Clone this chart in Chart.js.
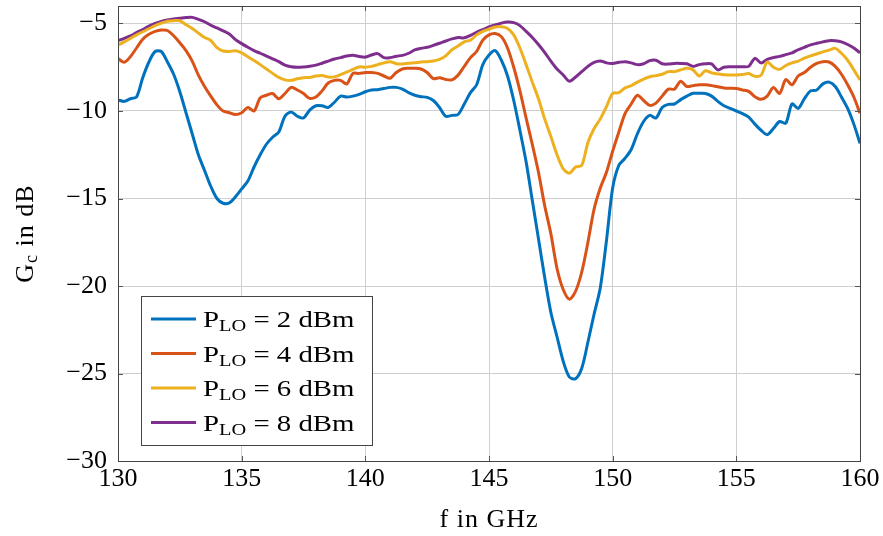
<!DOCTYPE html>
<html>
<head>
<meta charset="utf-8">
<script src="https://cdn.jsdelivr.net/npm/chart.js@4/dist/chart.umd.min.js"></script>
<style>
  html, body { margin: 0; padding: 0; background: #fff; }
  #wrap { width: 883px; height: 536px; position: relative; }
</style>
</head>
<body>
<div id="wrap"><canvas id="gain"></canvas></div>
<script>
// frequency grid in GHz (0.25 GHz steps)
const freqs = [];
for (let i = 0; i <= 120; i++) freqs.push(130 + i * 0.25);

const plo2 = [
  -9.37, -9.45, -9.3, -9.2, -8.1, -7.2, -6.6, -6.6, -7.2, -7.9, -8.9, -10.1, -11.3, -12.5, -13.4, -14.3,
  -15.0, -15.27, -15.25, -14.9, -14.45, -14.0, -13.2, -12.5, -11.9, -11.5, -11.2, -10.3, -10.05, -10.3, -10.4, -9.95,
  -9.7, -9.7, -9.8, -9.5, -9.15, -9.2, -9.15, -9.05, -8.9, -8.8, -8.78, -8.72, -8.65, -8.65, -8.75, -8.95,
  -9.1, -9.18, -9.22, -9.4, -9.8, -10.3, -10.25, -10.2, -9.6, -8.95, -8.5, -7.35, -6.8, -6.55, -7.1, -8.0,
  -9.4, -11.1, -12.9, -15.1, -17.3, -19.5, -21.5, -22.9, -24.3, -25.2, -25.3, -24.7, -23.2, -21.6, -20.1, -17.4,
  -14.4, -13.1, -12.7, -12.2, -11.3, -10.6, -10.25, -10.4, -9.8, -9.62, -9.6, -9.35, -9.15, -8.99, -8.99, -9.0,
  -9.15, -9.45, -9.7, -9.85, -10.0, -10.15, -10.35, -10.75, -11.1, -11.35, -11.0, -10.6, -10.7, -9.6, -9.85, -9.3,
  -8.85, -8.8, -8.45, -8.35, -8.6, -9.2, -9.85, -10.75, -11.85
];
const plo4 = [
  -7.0, -7.22, -6.9, -6.4, -5.9, -5.62, -5.45, -5.37, -5.4, -5.7, -6.1, -6.55, -7.15, -7.95, -8.6, -9.15,
  -9.65, -10.0, -10.1, -10.2, -10.1, -9.8, -10.0, -9.25, -9.1, -9.0, -9.3, -9.0, -8.65, -8.8, -9.0, -9.28,
  -9.2, -8.85, -8.4, -8.25, -8.25, -8.45, -7.85, -7.85, -7.8, -7.8, -7.85, -8.0, -8.13, -7.8, -7.6, -7.56,
  -7.56, -7.6, -7.8, -8.15, -8.1, -8.2, -8.22, -7.95, -7.45, -6.95, -6.6, -5.95, -5.65, -5.57, -5.75, -6.4,
  -7.5, -8.85, -10.4, -11.9, -13.5, -15.4, -17.0, -19.0, -20.2, -20.75, -20.3, -19.2, -17.5, -15.6, -14.4, -13.5,
  -12.3, -11.2, -10.15, -9.6, -9.1, -9.4, -9.68, -9.55, -9.15, -8.75, -8.75, -8.3, -8.6, -8.55, -8.5, -8.5,
  -8.55, -8.62, -8.68, -8.7, -8.72, -8.8, -8.88, -9.18, -9.33, -9.15, -8.65, -9.0, -8.2, -8.5, -8.0, -7.8,
  -7.5, -7.28, -7.18, -7.2, -7.45, -7.9, -8.5, -9.2, -10.13
];
const plo6 = [
  -6.23, -6.05, -5.85, -5.65, -5.47, -5.3, -5.12, -4.98, -4.87, -4.84, -4.84, -5.07, -5.28, -5.55, -5.8, -5.97,
  -6.38, -6.57, -6.6, -6.56, -6.68, -6.9, -7.12, -7.35, -7.6, -7.85, -8.08, -8.22, -8.25, -8.16, -8.1, -8.08,
  -8.0, -7.97, -8.06, -8.05, -7.92, -7.78, -7.62, -7.48, -7.5, -7.45, -7.35, -7.25, -7.18, -7.3, -7.31, -7.27,
  -7.24, -7.2, -7.18, -7.14, -7.05, -6.85, -6.5, -6.28, -6.05, -5.95, -5.65, -5.45, -5.32, -5.2, -5.18, -5.28,
  -5.65, -6.4, -7.35, -8.35, -9.3, -10.45, -11.45, -12.5, -13.3, -13.55, -13.2, -13.1, -11.8, -11.0, -10.45, -9.75,
  -9.0, -8.95, -8.68, -8.55, -8.35, -8.18, -8.04, -7.98, -7.9, -7.75, -7.75, -7.65, -7.56, -7.65, -8.0, -7.7,
  -7.82, -7.88, -7.93, -7.94, -7.94, -7.92, -7.86, -8.02, -7.95, -7.2, -7.5, -7.62, -7.4, -7.25, -7.15, -6.98,
  -6.85, -6.74, -6.62, -6.52, -6.42, -6.7, -7.1, -7.65, -8.23
];
const plo8 = [
  -5.98, -5.85, -5.71, -5.52, -5.35, -5.15, -5.0, -4.88, -4.8, -4.74, -4.7, -4.66, -4.65, -4.76, -4.9, -5.1,
  -5.25, -5.42, -5.6, -5.92, -6.15, -6.36, -6.55, -6.7, -6.86, -7.02, -7.18, -7.38, -7.47, -7.5, -7.48, -7.44,
  -7.38, -7.27, -7.15, -7.03, -6.95, -6.86, -6.82, -6.88, -6.92, -6.8, -6.72, -6.95, -6.95, -6.87, -6.82, -6.7,
  -6.51, -6.42, -6.36, -6.25, -6.13, -6.0, -5.88, -5.8, -5.82, -5.68, -5.5, -5.35, -5.2, -5.08, -4.98, -4.92,
  -4.95, -5.12, -5.45, -5.8, -6.2, -6.65, -7.15, -7.6, -7.94, -8.3, -8.06, -7.75, -7.45, -7.22, -7.14, -7.25,
  -7.28, -7.22, -7.18, -7.25, -7.35, -7.3, -7.12, -7.1, -7.3, -7.32, -7.28, -7.28, -7.3, -7.45, -7.35, -7.3,
  -7.31, -7.65, -7.5, -7.47, -7.47, -7.47, -7.45, -6.99, -7.25, -7.05, -6.95, -6.88, -6.78, -6.68, -6.5, -6.36,
  -6.22, -6.13, -6.05, -5.98, -5.99, -6.05, -6.2, -6.4, -6.67
];

const seriesNames = ['2', '4', '6', '8'];
const seriesColors = ['#0072BD', '#D95319', '#EDB120', '#7E2F8E'];
const xTicks = [130, 135, 140, 145, 150, 155, 160];
const yTicks = [-30, -25, -20, -15, -10, -5];

const serif = '"Liberation Serif", "Times New Roman", serif';

function pts(vals) {
  return vals.map((v, i) => ({ x: freqs[i], y: v }));
}

// frame, inner ticks, axis titles with subscripts, legend
const decor = {
  id: 'decor',
  afterDraw(chart) {
    const ctx = chart.ctx;
    const a = chart.chartArea;
    const xs = chart.scales.x, ys = chart.scales.y;
    ctx.save();
    ctx.strokeStyle = '#555';
    ctx.lineWidth = 1;
    ctx.beginPath();
    xTicks.forEach(t => {
      const px = Math.round(xs.getPixelForValue(t)) + 0.5;
      ctx.moveTo(px, a.bottom); ctx.lineTo(px, a.bottom - 5);
      ctx.moveTo(px, a.top); ctx.lineTo(px, a.top + 5);
    });
    yTicks.forEach(t => {
      const py = Math.round(ys.getPixelForValue(t)) + 0.5;
      ctx.moveTo(a.left, py); ctx.lineTo(a.left + 5, py);
      ctx.moveTo(a.right, py); ctx.lineTo(a.right - 5, py);
    });
    ctx.stroke();
    ctx.strokeStyle = '#444';
    ctx.strokeRect(Math.round(a.left) + 0.5, Math.round(a.top) + 0.5,
      Math.round(a.right - a.left), Math.round(a.bottom - a.top));

    // x title
    ctx.fillStyle = '#000';
    ctx.font = '26px ' + serif;
    ctx.letterSpacing = '1px';
    ctx.textAlign = 'center';
    ctx.textBaseline = 'alphabetic';
    ctx.fillText('f in GHz', (a.left + a.right) / 2, 527);

    // y title: G_c in dB
    ctx.save();
    ctx.translate(33, (a.top + a.bottom) / 2);
    ctx.rotate(-Math.PI / 2);
    ctx.textAlign = 'left';
    ctx.font = '26px ' + serif;
    const gW = ctx.measureText('G').width;
    ctx.font = '18px ' + serif;
    const cW = ctx.measureText('c').width;
    ctx.font = '26px ' + serif;
    const restW = ctx.measureText(' in dB').width;
    const x0 = -(gW + cW + restW) / 2;
    ctx.fillText('G', x0, 0);
    ctx.font = '18px ' + serif;
    ctx.fillText('c', x0 + gW, 4);
    ctx.font = '26px ' + serif;
    ctx.fillText(' in dB', x0 + gW + cW, 0);
    ctx.restore();

    // legend
    const lx = 141, ly = 296, lw = 231, lh = 149;
    ctx.letterSpacing = '0px';
    ctx.fillStyle = '#fff';
    ctx.fillRect(lx, ly, lw, lh);
    ctx.strokeStyle = '#444';
    ctx.lineWidth = 1;
    ctx.strokeRect(lx + 0.5, ly + 0.5, lw, lh);
    chart.data.datasets.forEach((ds, i) => {
      const cy = 319 + i * 34.5;
      ctx.strokeStyle = ds.borderColor;
      ctx.lineWidth = 3;
      ctx.beginPath();
      ctx.moveTo(151, cy); ctx.lineTo(196, cy);
      ctx.stroke();
      ctx.fillStyle = '#000';
      ctx.textAlign = 'left';
      // text a bit wider, like the TeX font of the original
      ctx.save();
      ctx.translate(203, cy + 8);
      ctx.scale(1.2, 1);
      ctx.font = '24px ' + serif;
      ctx.fillText('P', 0, 0);
      let x = ctx.measureText('P').width;
      ctx.font = '17px ' + serif;
      ctx.fillText('LO', x, 4);
      x += ctx.measureText('LO').width;
      ctx.font = '24px ' + serif;
      ctx.fillText(' = ' + seriesNames[i] + ' dBm', x, 0);
      ctx.restore();
    });
    ctx.restore();
  }
};

const datasets = [plo2, plo4, plo6, plo8].map((vals, i) => ({
  label: 'P_LO = ' + seriesNames[i] + ' dBm',
  data: pts(vals),
  borderColor: seriesColors[i],
  backgroundColor: seriesColors[i],
  borderWidth: 3,
  pointRadius: 0,
  tension: 0.3,
  fill: false
}));

new Chart(document.getElementById('gain'), {
  type: 'line',
  data: { datasets: datasets },
  options: {
    responsive: true,
    maintainAspectRatio: false,
    animation: false,
    layout: { padding: { left: 0, right: 23, top: 6, bottom: 0 } },
    plugins: { legend: { display: false }, tooltip: { enabled: false } },
    scales: {
      x: {
        type: 'linear',
        min: 130,
        max: 160,
        afterFit: s => { s.height = 75; s.paddingLeft = 0; s.paddingRight = 0; },
        afterBuildTicks: s => { s.ticks = xTicks.map(v => ({ value: v })); },
        grid: { color: '#cfcfcf', lineWidth: 1, drawTicks: false },
        border: { display: false },
        ticks: {
          padding: 3,
          color: '#000',
          font: { family: serif, size: 26 },
          maxRotation: 0
        }
      },
      y: {
        min: -30,
        max: -4,
        afterFit: s => { s.width = 118; s.paddingTop = 0; s.paddingBottom = 0; },
        afterBuildTicks: s => { s.ticks = yTicks.map(v => ({ value: v })); },
        grid: { color: '#cfcfcf', lineWidth: 1, drawTicks: false },
        border: { display: false },
        ticks: {
          padding: 11,
          color: '#000',
          font: { family: serif, size: 26 },
          callback: v => v < 0 ? '\u2212' + Math.abs(v) : String(v)
        }
      }
    }
  },
  plugins: [decor]
});
</script>
</body>
</html>
